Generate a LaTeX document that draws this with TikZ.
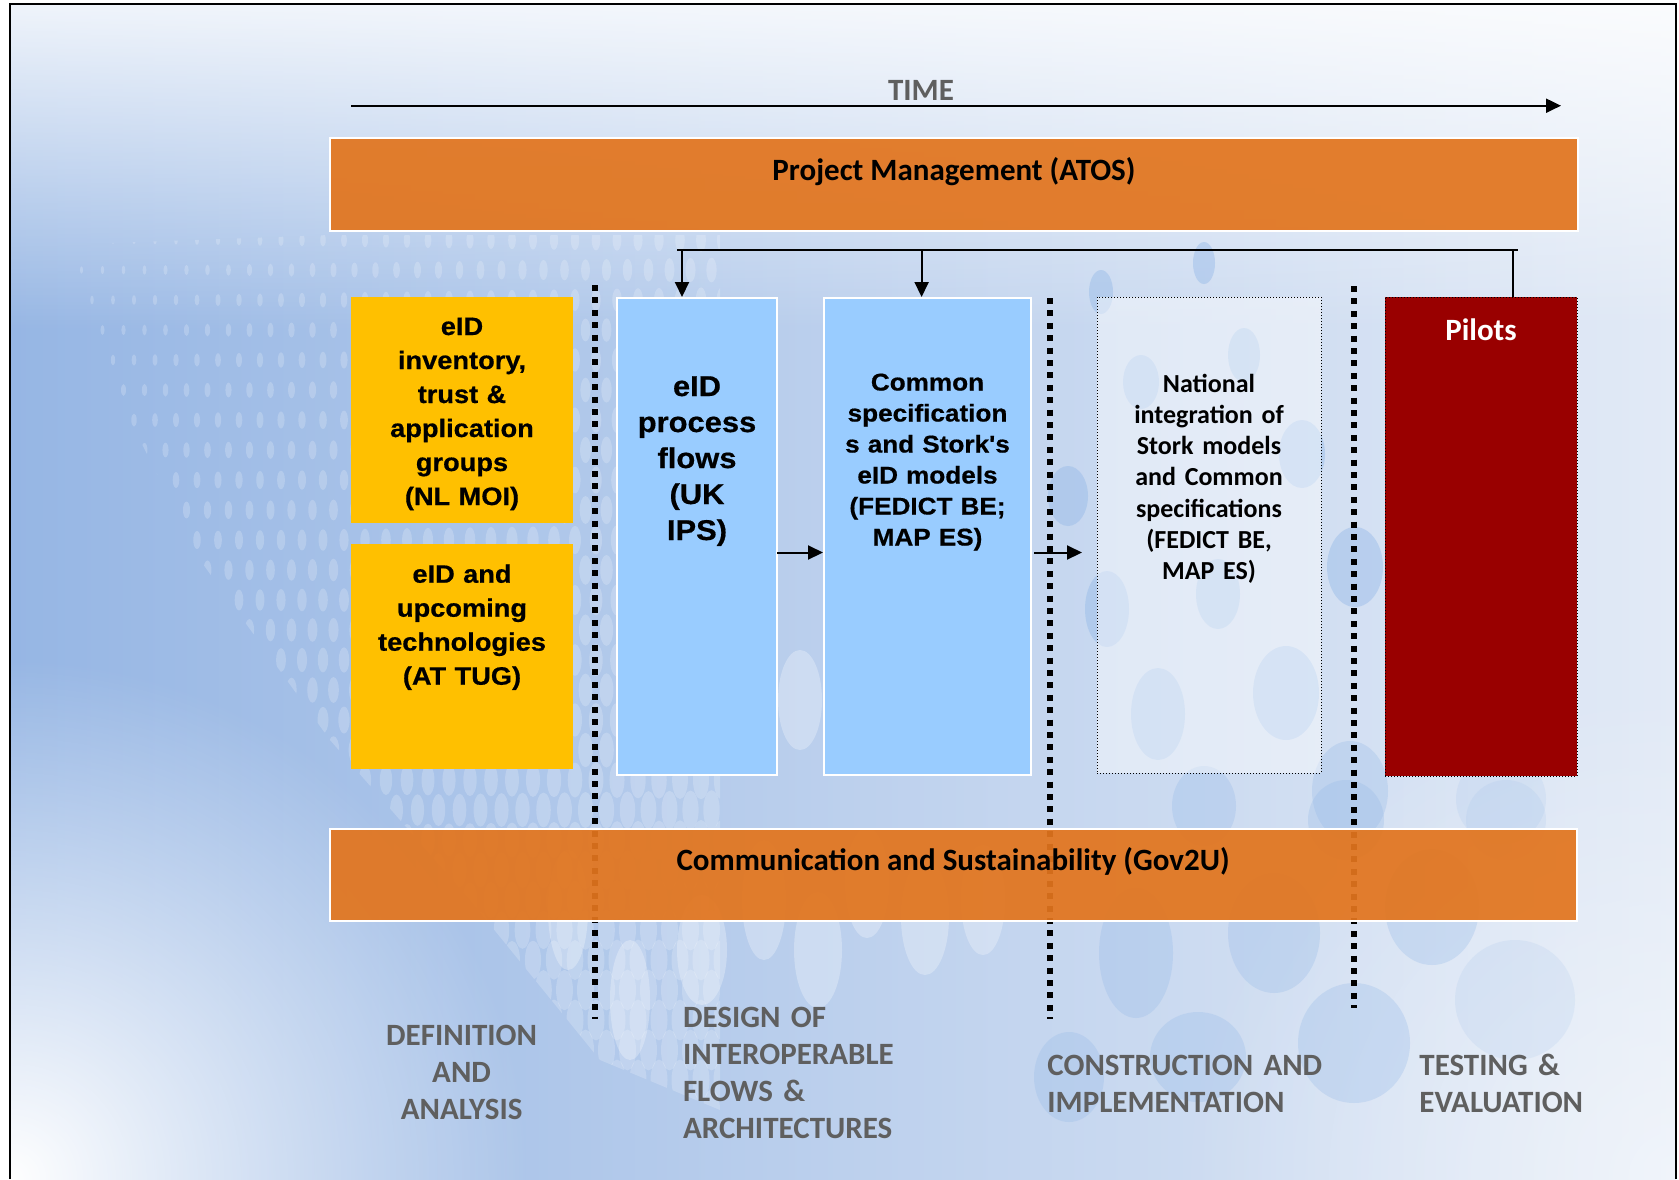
\documentclass[tikz,border=0pt]{standalone}
\usepackage{fontspec}
\setmainfont{Carlito}
\newfontfamily\arialx[FakeStretch=1.08, BoldFeatures={FakeBold=0.6}]{Liberation Sans}
\usetikzlibrary{arrows.meta,fit,fadings}
\definecolor{pmorange}{RGB}{226,117,30}
\definecolor{yel}{RGB}{255,192,0}
\definecolor{lblue}{RGB}{153,204,255}
\definecolor{dred}{RGB}{153,0,0}
\definecolor{lgray}{RGB}{95,95,95}
\definecolor{bgL}{RGB}{150,182,228}
\definecolor{bgR}{RGB}{226,234,246}
\definecolor{bubblue}{RGB}{150,186,232}
\tikzfading[name=radfade, inner color=transparent!0, outer color=transparent!100]
\tikzset{
  bar/.style={draw=white, line width=1pt, fill=pmorange, fill opacity=0.93, inner sep=0pt},
  ybox/.style={fill=yel, inner sep=0pt},
  bbox/.style={fill=lblue, draw=white, line width=1pt, inner sep=0pt},
  nbox/.style={draw=black, densely dotted, line width=0.5pt, fill=white, fill opacity=0.45, inner sep=0pt},
  pbox/.style={draw=black, densely dotted, line width=0.5pt, fill=dred, inner sep=0pt},
  sepline/.style={line width=3pt, dash pattern=on 3pt off 3.2pt},
  arr/.style={line width=1pt, -{Triangle[length=7.5pt,width=7pt]}},
  conn/.style={line width=1pt},
  ytext/.style={anchor=base, inner sep=0pt, align=center, text width=108pt,
    font=\arialx\bfseries\fontsize{12.6pt}{17pt}\selectfont},
  b1text/.style={anchor=base, inner sep=0pt, align=center, text width=78pt,
    font=\arialx\bfseries\fontsize{14.3pt}{18pt}\selectfont},
  b2text/.style={anchor=base, inner sep=0pt, align=center, text width=102pt,
    font=\arialx\bfseries\fontsize{12.1pt}{15.5pt}\selectfont},
  ntext/.style={anchor=base, inner sep=0pt, align=center, text width=108pt,
    font=\bfseries\fontsize{13pt}{15.65pt}\selectfont},
  bartext/.style={anchor=base, inner sep=0pt, font=\bfseries\fontsize{15.5pt}{18pt}\selectfont},
  phase/.style={inner sep=0pt, text=lgray, text width=140pt,
    font=\bfseries\fontsize{15.5pt}{18.5pt}\selectfont},
}
\begin{document}
\begin{tikzpicture}[x=0.5pt,y=-0.5pt]
\useasboundingbox (0,0) rectangle (1679,1179);
% ---------- background ----------
\fill[white] (0,0) rectangle (1679,1179);
\shade[left color=bgL, right color=bgR] (10,4) rectangle (1676,1179);
\fill[white, opacity=0.85, path fading=south] (10,4) rectangle (1676,330);
\fill[white, path fading=radfade] (10,1179) circle (520);
\fill[white, opacity=0.5, path fading=radfade] (1676,1179) circle (500);
% halftone dots
\begin{scope}
\clip (55,245) -- (330,235) -- (720,235) -- (720,1110) -- (600,1060) -- (470,900) -- (330,740) -- (200,560) -- (110,380) -- cycle;
\foreach \i in {0,...,32}{
  \foreach \j in {0,...,29}{
    \pgfmathsetmacro{\xx}{50+21*\i+10.5*mod(\j,2)}
    \pgfmathsetmacro{\yy}{240+30*\j}
    \pgfmathsetmacro{\rr}{min(1.2+(\xx+\yy-290)/175,8.5)}
    \fill[white, opacity=0.2] (\xx,\yy) ellipse [x radius=\rr, y radius=2.4*\rr];
  }
}
\end{scope}
% pale streaks in the middle
\foreach \x/\y/\a/\b in {568/910/20/60, 630/1000/20/60, 702/950/25/55, 764/900/22/60,
  818/950/24/58, 867/883/22/55, 925/917/24/58, 983/900/22/55, 800/700/22/50, 740/640/18/40}{
  \fill[white, opacity=0.28] (\x,\y) ellipse [x radius=\a, y radius=\b];
}
% blue bubbles on the right
\foreach \x/\y/\a/\b in {1204/263/11/21, 1244/355/16/27, 1141/382/18/27, 1101/292/12/22,
  1302/454/23/34, 1107/609/22/38, 1218/594/22/35, 1158/714/27/46, 1286/693/33/47,
  1355/567/28/40, 1068/496/20/30}{
  \fill[bubblue, opacity=0.45] (\x,\y) ellipse [x radius=\a, y radius=\b];
}
\foreach \x/\y/\a/\b in {1350/791/38/50, 1204/806/32/40,
  1136/953/37/65, 1274/933/46/60, 1432/907/47/58, 1354/1043/56/60, 1198/1057/48/45,
  1069/1077/35/45, 1346/820/38/40}{
  \fill[bubblue, opacity=0.3] (\x,\y) ellipse [x radius=\a, y radius=\b];
}
\foreach \x/\y/\a/\b in {1501/799/45/45, 1515/1000/60/60, 1506/820/40/40}{
  \fill[bubblue, opacity=0.15] (\x,\y) ellipse [x radius=\a, y radius=\b];
}
% frame
\draw[line width=1pt] (10,1179) -- (10,4) -- (1676,4) -- (1676,1179);
% ---------- time arrow ----------
\coordinate (ts) at (351,105.7);
\coordinate (te) at (1561,105.7);
\draw[arr] (ts) -- (te);
\node[bartext, text=lgray] (time) at (921,100) {TIME};
% ---------- phase separators ----------
\coordinate (d1a) at (595,285);  \coordinate (d1b) at (595,1019);
\coordinate (d2a) at (1050,298); \coordinate (d2b) at (1050,1019);
\coordinate (d3a) at (1354,286); \coordinate (d3b) at (1354,1008);
\draw[sepline] (d1a) -- (d1b);
\draw[sepline] (d2a) -- (d2b);
\draw[sepline] (d3a) -- (d3b);
% ---------- bars ----------
\node[bar, fit={(330,138)(1578,231)}] (pm) {};
\node[bar, fit={(330,829)(1577,921)}] (cs) {};
\node[bartext] (pmt) at (954,180) {Project Management (ATOS)};
\node[bartext] (cst) at (953,870) {Communication and Sustainability (Gov2U)};
% ---------- boxes ----------
\node[ybox, fit={(351,297)(573,523)}] (y1) {};
\node[ybox, fit={(351,544)(573,769)}] (y2) {};
\node[bbox, fit={(617,298)(777,775)}] (b1) {};
\node[bbox, fit={(824,298)(1031,775)}] (b2) {};
\node[nbox, fit={(1097,297)(1321,773)}] (nat) {};
\node[pbox, fit={(1385,297)(1577,776)}] (pil) {};
\node[ytext] (y1t) at (462,335) {eID\\inventory,\\trust \&\\application\\groups\\(NL MOI)};
\node[ytext] (y2t) at (462,582.7) {eID and\\upcoming\\technologies\\(AT TUG)};
\node[b1text] (b1t) at (697,396) {eID\\process\\flows\\(UK\\IPS)};
\node[b2text] (b2t) at (927.5,390.5) {Common\\specification\\s and Stork's\\eID models\\(FEDICT BE;\\MAP ES)};
\node[ntext] (natt) at (1209,392) {National\\integration of\\Stork models\\and Common\\specifications\\(FEDICT BE,\\MAP ES)};
\node[bartext, text=white] (pilt) at (1481,340) {Pilots};
% ---------- connectors ----------
\coordinate (hl) at (677,249.6);
\coordinate (hr) at (1518,249.6);
\coordinate (j1) at (682,249.6);
\coordinate (j2) at (921.6,249.6);
\coordinate (j3) at (1513,249.6);
\draw[conn] (hl) -- (hr);
\draw[arr] (j1) -- (j1 |- b1.north);
\draw[arr] (j2) -- (j2 |- b2.north);
\draw[conn] (j3) -- (j3 |- pil.north);
\coordinate (a1) at (777,552.5);
\draw[arr] (a1) -- (a1 -| b2.west);
\coordinate (a2) at (1034,552.5);
\coordinate (a2e) at (1082,552.5);
\draw[arr] (a2) -- (a2e);
% ---------- phase labels ----------
\node[phase, anchor=base, align=center] (ph1) at (461.6,1045) {DEFINITION\\AND\\ANALYSIS};
\node[phase, anchor=base west, align=left] (ph2) at (682.6,1027.7) {DESIGN OF\\INTEROPERABLE\\FLOWS \&\\ARCHITECTURES};
\node[phase, anchor=base west, align=left] (ph3) at (1047,1075) {CONSTRUCTION AND\\IMPLEMENTATION};
\node[phase, anchor=base west, align=left] (ph4) at (1419,1075) {TESTING \&\\EVALUATION};
\end{tikzpicture}
\end{document}
